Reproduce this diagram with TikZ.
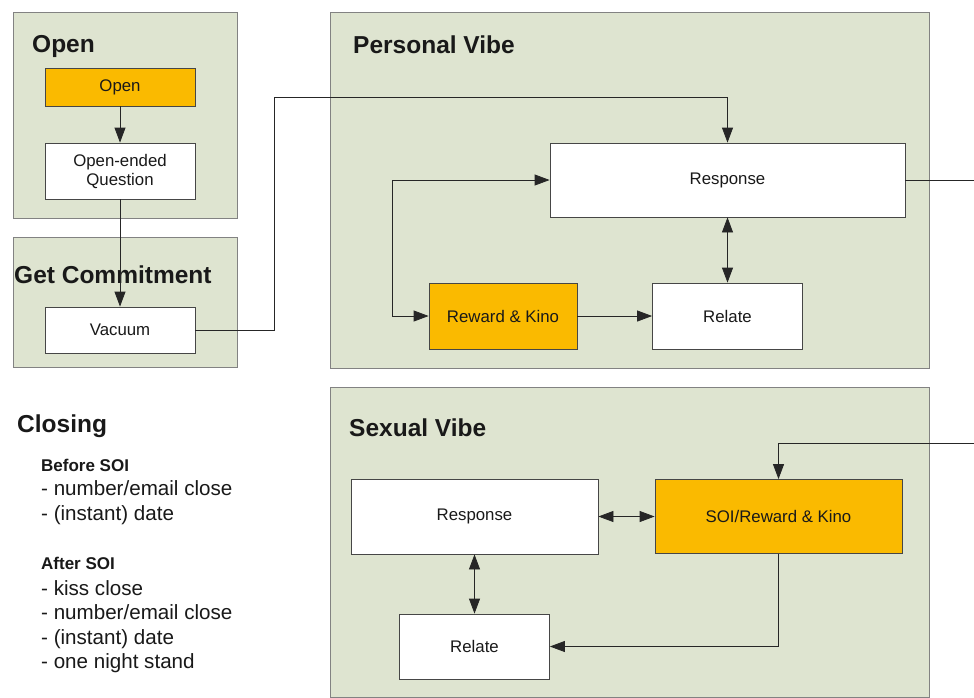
\documentclass[tikz,border=0pt]{standalone}
\usepackage{fontspec}
\setmainfont{Liberation Sans}
\usetikzlibrary{arrows.meta,calc}
\definecolor{panelfill}{RGB}{222,228,208}
\definecolor{panelline}{RGB}{130,130,130}
\definecolor{boxline}{RGB}{70,70,70}
\definecolor{orangefill}{RGB}{250,186,0}
\definecolor{txt}{RGB}{25,25,25}
\begin{document}
\begin{tikzpicture}[x=1pt,y=-1pt,
  panel/.style={draw=panelline,fill=panelfill,line width=0.9pt},
  box/.style={draw=boxline,fill=white,line width=0.8pt,inner sep=0pt,
    text=txt,font=\fontsize{16.8}{19}\selectfont,align=center},
  hot/.style={box,fill=orangefill},
  title/.style={anchor=base west,inner sep=0pt,text=txt,font=\fontsize{24.5}{28}\selectfont\bfseries},
  subhead/.style={anchor=base west,inner sep=0pt,text=txt,font=\fontsize{17}{20}\selectfont\bfseries},
  item/.style={anchor=base west,inner sep=0pt,text=txt,font=\fontsize{20.6}{22}\selectfont},
  conn/.style={draw=black!85,line width=0.8pt},
  arr/.style={conn,-{Triangle[length=15pt,width=11pt]}},
  darr/.style={conn,{Triangle[length=15pt,width=11pt]}-{Triangle[length=15pt,width=11pt]}}
]
\useasboundingbox (0,0) rectangle (974,697);
\fill[white] (0,0) rectangle (974,697);

% panels
\draw[panel] (13,12) rectangle (237,218);
\draw[panel] (13,237) rectangle (237,367);
\draw[panel] (330,12) rectangle (929,368);
\draw[panel] (330,387) rectangle (929,697);

% titles
\node[title] (tOpen) at (32,52) {Open};
\node[title] (tCommit) at (14,283) {Get Commitment};
\node[title] (tPersonal) at (353,53) {Personal Vibe};
\node[title] (tSexual) at (349,436) {Sexual Vibe};
\node[title] (tClosing) at (17,432) {Closing};

% closing list
\node[subhead] (bsoi) at (41,471) {Before SOI};
\node[item] (b1) at (41,495) {- number/email close};
\node[item] (b2) at (41,520) {- (instant) date};
\node[subhead] (asoi) at (41,569) {After SOI};
\node[item] (a1) at (41,595) {- kiss close};
\node[item] (a2) at (41,619) {- number/email close};
\node[item] (a3) at (41,644) {- (instant) date};
\node[item] (a4) at (41,668) {- one night stand};

% boxes
\node[hot,minimum width=150pt,minimum height=38pt] (open) at (120,87) {Open};
\node[box,minimum width=150pt,minimum height=56pt] (oeq) at (120,171) {Open-ended\\Question};
\node[box,minimum width=150pt,minimum height=46pt] (vacuum) at (120,330) {Vacuum};

\node[box,minimum width=355pt,minimum height=74pt] (presp) at (727.5,180) {Response};
\node[hot,minimum width=148pt,minimum height=66pt] (rk) at (503,316) {Reward \& Kino};
\node[box,minimum width=150pt,minimum height=66pt] (prel) at (727.5,316) {Relate};

\node[box,minimum width=247pt,minimum height=75pt] (sresp) at (474.5,516.5) {Response};
\node[hot,minimum width=247pt,minimum height=74pt] (soi) at (778.5,516.5) {SOI/Reward \& Kino};
\node[box,minimum width=150pt,minimum height=65pt] (srel) at (474.5,646.5) {Relate};

% junction points
\coordinate (j1) at (274,97);
\coordinate (j2) at (392,180);
\coordinate (j3) at (1000,443);

% connectors
\draw[arr] (open) -- (oeq);
\draw[arr] (oeq) -- (vacuum);
\draw[arr] (vacuum.east) -| (j1) -| (presp.north);
\draw[darr] (presp.south) -- (prel.north);
\draw[arr] (rk) -- (prel);
\draw[darr] (presp.west) -- (j2) |- (rk.west);
\draw[arr] (presp.east) -| (j3) -| (soi.north);
\draw[darr] (sresp) -- (soi);
\draw[darr] (sresp) -- (srel);
\draw[arr] (soi.south) |- (srel.east);
\end{tikzpicture}
\end{document}
